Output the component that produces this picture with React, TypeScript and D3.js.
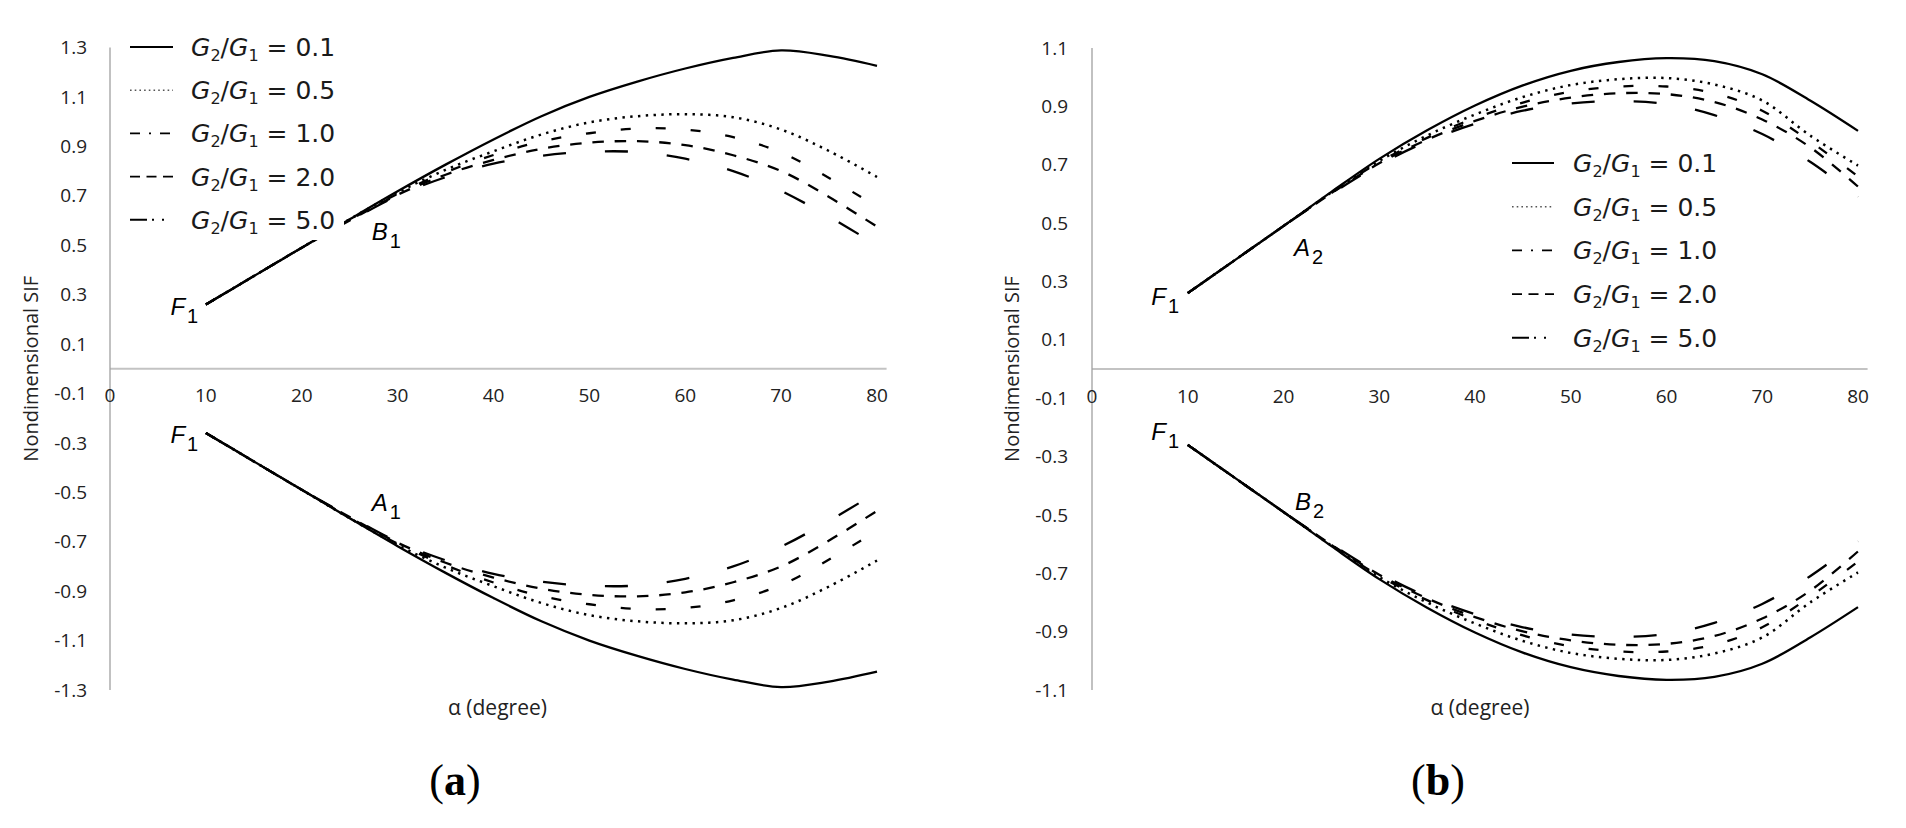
import React from 'react';
import * as d3 from 'd3';

// alpha (degree) sample points shared by every curve
const alphaDeg = [10, 15, 20, 25, 30, 35, 40, 45, 50, 55, 60, 65, 70, 75, 80];
const ratioLabels = ['0.1', '0.5', '1.0', '2.0', '5.0'];

// panel (a) upper branch (B1) and lower branch (A1)
const aUpper01 = [0.26, 0.375, 0.49, 0.605, 0.718, 0.826, 0.928, 1.022, 1.1, 1.162, 1.215, 1.258, 1.288, 1.266, 1.226];
const aUpper05 = [0.26, 0.375, 0.49, 0.605, 0.713, 0.805, 0.88, 0.948, 0.997, 1.022, 1.03, 1.018, 0.968, 0.881, 0.776];
const aUpper10 = [0.26, 0.375, 0.49, 0.602, 0.708, 0.795, 0.865, 0.92, 0.953, 0.972, 0.968, 0.937, 0.875, 0.772, 0.655];
const aUpper20 = [0.26, 0.375, 0.49, 0.6, 0.704, 0.785, 0.845, 0.89, 0.915, 0.921, 0.905, 0.864, 0.8, 0.695, 0.575];
const aUpper50 = [0.26, 0.375, 0.49, 0.598, 0.7, 0.775, 0.83, 0.862, 0.878, 0.877, 0.85, 0.8, 0.72, 0.615, 0.5];
const aLower01 = [-0.26, -0.375, -0.49, -0.605, -0.718, -0.826, -0.928, -1.022, -1.1, -1.162, -1.215, -1.258, -1.288, -1.266, -1.226];
const aLower05 = [-0.26, -0.375, -0.49, -0.605, -0.713, -0.805, -0.88, -0.948, -0.997, -1.022, -1.03, -1.018, -0.968, -0.881, -0.776];
const aLower10 = [-0.26, -0.375, -0.49, -0.602, -0.708, -0.795, -0.865, -0.92, -0.953, -0.972, -0.968, -0.937, -0.875, -0.772, -0.655];
const aLower20 = [-0.26, -0.375, -0.49, -0.6, -0.704, -0.785, -0.845, -0.89, -0.915, -0.921, -0.905, -0.864, -0.8, -0.695, -0.575];
const aLower50 = [-0.26, -0.375, -0.49, -0.598, -0.7, -0.775, -0.83, -0.862, -0.878, -0.877, -0.85, -0.8, -0.72, -0.615, -0.5];

// panel (b) upper branch (A2) and lower branch (B2)
const bUpper01 = [0.26, 0.375, 0.49, 0.607, 0.72, 0.818, 0.903, 0.972, 1.022, 1.052, 1.065, 1.055, 1.01, 0.92, 0.816];
const bUpper05 = [0.26, 0.375, 0.49, 0.605, 0.713, 0.8, 0.872, 0.932, 0.973, 0.993, 0.997, 0.975, 0.92, 0.8, 0.697];
const bUpper10 = [0.26, 0.375, 0.49, 0.603, 0.709, 0.792, 0.86, 0.913, 0.95, 0.968, 0.968, 0.945, 0.885, 0.78, 0.66];
const bUpper20 = [0.26, 0.375, 0.49, 0.602, 0.705, 0.786, 0.85, 0.899, 0.93, 0.945, 0.942, 0.915, 0.855, 0.76, 0.625];
const bUpper50 = [0.26, 0.375, 0.49, 0.6, 0.7, 0.78, 0.84, 0.885, 0.91, 0.918, 0.908, 0.87, 0.805, 0.71, 0.59];
const bLower01 = [-0.26, -0.375, -0.49, -0.607, -0.72, -0.818, -0.903, -0.972, -1.022, -1.052, -1.065, -1.055, -1.01, -0.92, -0.816];
const bLower05 = [-0.26, -0.375, -0.49, -0.605, -0.713, -0.8, -0.872, -0.932, -0.973, -0.993, -0.997, -0.975, -0.92, -0.8, -0.697];
const bLower10 = [-0.26, -0.375, -0.49, -0.603, -0.709, -0.792, -0.86, -0.913, -0.95, -0.968, -0.968, -0.945, -0.885, -0.78, -0.66];
const bLower20 = [-0.26, -0.375, -0.49, -0.602, -0.705, -0.786, -0.85, -0.899, -0.93, -0.945, -0.942, -0.915, -0.855, -0.76, -0.625];
const bLower50 = [-0.26, -0.375, -0.49, -0.6, -0.7, -0.78, -0.84, -0.885, -0.91, -0.918, -0.908, -0.87, -0.805, -0.71, -0.59];

const xTickValues = [0, 10, 20, 30, 40, 50, 60, 70, 80];
const yTicksA = [1.3, 1.1, 0.9, 0.7, 0.5, 0.3, 0.1, -0.1, -0.3, -0.5, -0.7, -0.9, -1.1, -1.3];
const yTicksB = [1.1, 0.9, 0.7, 0.5, 0.3, 0.1, -0.1, -0.3, -0.5, -0.7, -0.9, -1.1];

// point labels: letter, subscript, position in data units (baseline, left edge)
const pointLabelsA = [
  { main: 'F', sub: '1', x: 6.3, y: 0.217 },
  { main: 'B', sub: '1', x: 27.3, y: 0.521 },
  { main: 'F', sub: '1', x: 6.3, y: -0.301 },
  { main: 'A', sub: '1', x: 27.3, y: -0.576 },
];
const pointLabelsB = [
  { main: 'F', sub: '1', x: 6.2, y: 0.219 },
  { main: 'A', sub: '2', x: 21.1, y: 0.387 },
  { main: 'F', sub: '1', x: 6.2, y: -0.243 },
  { main: 'B', sub: '2', x: 21.2, y: -0.483 },
];

// line styles per G2/G1 ratio (curve pattern, legend sample pattern)
const styles = {
  '0.1': { dash: undefined, legendDash: undefined, width: 2.3 },
  '0.5': { dash: '2.4,5.4', legendDash: '1.6,3.1', width: 2.5 },
  '1.0': { dash: '10,25', legendDash: '10,9,2,9', width: 2.3 },
  '2.0': { dash: '11.5,10.8', legendDash: '10,6.5', width: 2.3 },
  '5.0': { dash: '23,39', legendDash: '17,5,2,8,2,9', width: 2.3 },
};

const tickFont = "'Open Sans', sans-serif";
const legendFont = "'DejaVu Sans', sans-serif";
const labelFont = "'Liberation Sans', Arial, sans-serif";

function Panel(props) {
  const { cfg } = props;
  const x = d3.scaleLinear().domain([0, 80]).range([cfg.x0, cfg.x80]);
  const y = d3.scaleLinear().domain([-cfg.yMax, cfg.yMax]).range([cfg.yBottom, cfg.yTop]);
  const line = d3.line()
    .x((d) => x(d[0]))
    .y((d) => y(d[1]))
    .curve(d3.curveCatmullRom.alpha(0.5));

  const curves = [];
  [cfg.upper, cfg.lower].forEach((group, gi) => {
    group.forEach((vals, i) => {
      const st = styles[ratioLabels[i]];
      curves.push(
        <path
          key={`c${gi}-${i}`}
          d={line(alphaDeg.map((a, k) => [a, vals[k]]))}
          fill="none"
          stroke="#000"
          strokeWidth={st.width}
          strokeDasharray={st.dash}
        />
      );
    });
  });

  const zeroY = y(0);
  const lg = cfg.legend;

  return (
    <g>
      {/* axes */}
      <line x1={x(0)} x2={x(81)} y1={zeroY} y2={zeroY} stroke="#c3c3c3" strokeWidth={2} />
      <line x1={x(0)} x2={x(0)} y1={y(cfg.yMax)} y2={y(-cfg.yMax)} stroke="#a0a0a0" strokeWidth={1.3} />
      {cfg.yTicks.map((t) => (
        <text key={`yt${t}`} x={cfg.yLabelRight} y={y(t)} dy="0.35em" textAnchor="end"
          fontFamily={tickFont} fontSize={19} fill="#222">{t.toFixed(1)}</text>
      ))}
      {xTickValues.map((t) => (
        <text key={`xt${t}`} x={x(t)} y={zeroY + 27} dy="0.35em" textAnchor="middle"
          fontFamily={tickFont} fontSize={19} fill="#222">{t}</text>
      ))}
      <text transform={`translate(${cfg.yTitleX},${(y(cfg.yMax) + y(-cfg.yMax)) / 2}) rotate(-90)`}
        textAnchor="middle" dy="0.35em" fontFamily={tickFont} fontSize={20} fill="#222">
        Nondimensional SIF
      </text>
      <text x={(x(0) + x(80)) / 2 + cfg.xTitleShift} y={708} dy="0.35em" textAnchor="middle"
        fontFamily={tickFont} fontSize={21} fill="#222">α (degree)</text>

      {curves}

      {/* legend */}
      <rect x={lg.boxX} y={lg.boxY} width={lg.boxW} height={lg.boxH} fill="#fff" />
      {ratioLabels.map((r, i) => {
        const ly = lg.rowY0 + i * lg.rowStep;
        const st = styles[r];
        return (
          <g key={`lg${r}`}>
            <line x1={lg.lineX1} x2={lg.lineX2} y1={ly} y2={ly}
              stroke={r === '0.5' ? '#555' : '#000'} strokeWidth={r === '0.5' ? 1.6 : 1.9}
              strokeDasharray={st.legendDash} />
            <text x={lg.textX} y={ly} dy="0.36em" fontFamily={legendFont} fontSize={25} fill="#1a1a1a">
              <tspan fontStyle="italic">G</tspan>
              <tspan fontSize={16} dy={5}>2</tspan>
              <tspan dy={-5}>/</tspan>
              <tspan fontStyle="italic">G</tspan>
              <tspan fontSize={16} dy={5}>1</tspan>
              <tspan dy={-5}>{` = ${r}`}</tspan>
            </text>
          </g>
        );
      })}

      {/* point labels */}
      {cfg.pointLabels.map((p, i) => (
        <text key={`pl${i}`} x={x(p.x)} y={y(p.y)} fontFamily={labelFont} fontSize={24} fill="#000">
          <tspan fontStyle="italic">{p.main}</tspan>
          <tspan fontSize={20} dx={2} dy={8}>{p.sub}</tspan>
        </text>
      ))}

      <text x={cfg.letterX} y={780} dy="0.35em" textAnchor="middle"
        fontFamily="'Liberation Serif', 'Times New Roman', serif" fontSize={44} fill="#000">
        (<tspan fontWeight="bold">{cfg.letter}</tspan>)
      </text>
    </g>
  );
}

const panelA = {
  x0: 110, x80: 877, yTop: 47.5, yBottom: 690, yMax: 1.3,
  yTicks: yTicksA, yLabelRight: 87, yTitleX: 31, xTitleShift: 4,
  upper: [aUpper01, aUpper05, aUpper10, aUpper20, aUpper50],
  lower: [aLower01, aLower05, aLower10, aLower20, aLower50],
  pointLabels: pointLabelsA,
  legend: { boxX: 122, boxY: 24, boxW: 222, boxH: 216, lineX1: 130, lineX2: 173, textX: 191, rowY0: 47, rowStep: 43.2 },
  letter: 'a', letterX: 455,
};

const panelB = {
  x0: 1092, x80: 1858, yTop: 48, yBottom: 690, yMax: 1.1,
  yTicks: yTicksB, yLabelRight: 1068, yTitleX: 1012, xTitleShift: 5,
  upper: [bUpper01, bUpper05, bUpper10, bUpper20, bUpper50],
  lower: [bLower01, bLower05, bLower10, bLower20, bLower50],
  pointLabels: pointLabelsB,
  legend: { boxX: 1504, boxY: 140, boxW: 222, boxH: 220, lineX1: 1512, lineX2: 1554, textX: 1573, rowY0: 163, rowStep: 43.7 },
  letter: 'b', letterX: 1438,
};

export default function App() {
  return (
    <div style={{ position: 'absolute', left: 0, top: 0 }}>
      <svg width={1906} height={828} style={{ display: 'block', background: '#fff' }}>
        <Panel cfg={panelA} />
        <Panel cfg={panelB} />
      </svg>
    </div>
  );
}
